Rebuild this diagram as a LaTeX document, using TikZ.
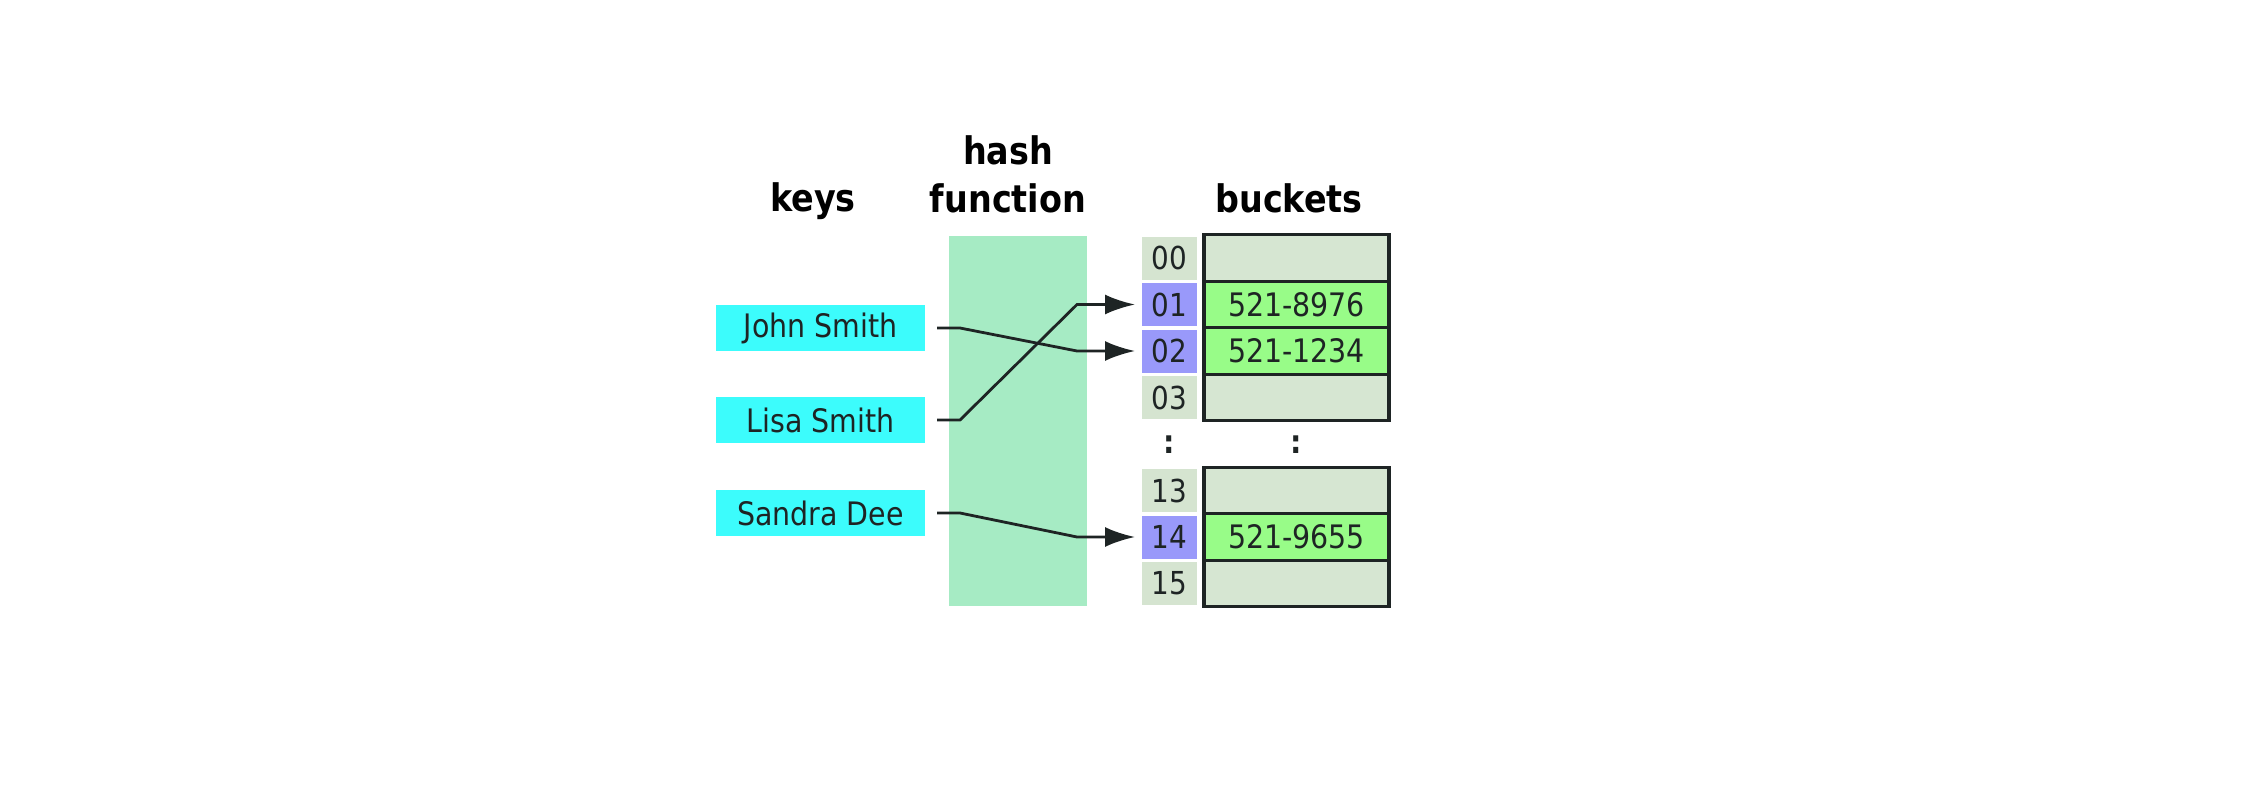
\documentclass[tikz,border=0pt]{standalone}
\usepackage{fontspec}
\setmainfont[FakeStretch=0.88]{DejaVu Sans}
\usepackage{tikz}
\usetikzlibrary{positioning}
\usetikzlibrary{arrows.meta}

\definecolor{keycyan}{RGB}{60,252,252}
\definecolor{hashgreen}{RGB}{166,235,196}
\definecolor{idxgray}{RGB}{213,228,208}
\definecolor{idxblue}{RGB}{153,153,250}
\definecolor{fullgreen}{RGB}{152,252,136}
\definecolor{emptygray}{RGB}{214,230,210}
\definecolor{inkdark}{RGB}{30,36,36}

\begin{document}
\begin{tikzpicture}[
keynode/.style={rectangle, fill=keycyan, minimum width=2.09cm, minimum height=0.46cm, inner sep=0pt, outer sep=0pt, text=inkdark, font=\fontsize{9.2}{11}\selectfont},
idxnode/.style={rectangle, fill=idxgray, minimum width=0.55cm, minimum height=0.43cm, inner sep=0pt, outer sep=0pt, text=inkdark, font=\fontsize{9}{11}\selectfont},
usednode/.style={idxnode, fill=idxblue},
bucketnode/.style={rectangle, draw=inkdark, line width=0.032cm, fill=emptygray, minimum width=1.85cm, minimum height=0.465cm, inner sep=0pt, outer sep=0pt, text=inkdark, font=\fontsize{9.2}{11}\selectfont},
fullnode/.style={bucketnode, fill=fullgreen},
headnode/.style={font=\bfseries\fontsize{10.8}{13.4}\selectfont, align=center, anchor=base},
dotsnode/.style={text=inkdark, font=\bfseries\fontsize{9.2}{11}\selectfont},
link/.style={draw=inkdark, line width=0.028cm, shorten <=0.12cm, shorten >=0.07cm, -{Latex[length=0.3cm, width=0.2cm]}},
]
\useasboundingbox (0,0) rectangle (22.42,-8.02);

% Hash function column
\node[rectangle, fill=hashgreen, minimum width=1.38cm, minimum height=3.70cm, inner sep=0pt] (hash) at (10.18,-4.21) {};

% Headings
\node[headnode] (keyslabel)    at (8.13,-2.11)  {keys};
\node[headnode] (hashlabel)    at (10.08,-2.12) {hash\\function};
\node[headnode] (bucketslabel) at (12.89,-2.12) {buckets};

% Key nodes
\node[keynode] (john)                                  at (8.205,-3.28) {John Smith};
\node[keynode] (lisa)   [below=0.46cm of john]                          {Lisa Smith};
\node[keynode] (sandra) [below=0.47cm of lisa]                          {Sandra Dee};

% Index nodes
\node[idxnode]  (i00)                        at (11.695,-2.58) {00};
\node[usednode] (i01) [below=0.035cm of i00]                   {01};
\node[usednode] (i02) [below=0.035cm of i01]                   {02};
\node[idxnode]  (i03) [below=0.035cm of i02]                   {03};
\node[idxnode]  (i13)                        at (11.695,-4.905) {13};
\node[usednode] (i14) [below=0.035cm of i13]                   {14};
\node[idxnode]  (i15) [below=0.035cm of i14]                   {15};

% Bucket nodes
\node[bucketnode] (b00) [right=0.07cm of i00] {};
\node[fullnode]   (b01) [right=0.07cm of i01] {521-8976};
\node[fullnode]   (b02) [right=0.07cm of i02] {521-1234};
\node[bucketnode] (b03) [right=0.07cm of i03] {};
\node[bucketnode] (b13) [right=0.07cm of i13] {};
\node[fullnode]   (b14) [right=0.07cm of i14] {521-9655};
\node[bucketnode] (b15) [right=0.07cm of i15] {};

% Gap marks
\node[dotsnode] (idxdots)    at (11.695,-4.45) {:};
\node[dotsnode] (bucketdots) at (12.965,-4.45) {:};

\draw[link] (john.east)   -- ++(0.35,0) -- ([xshift=-0.65cm]i02.west) -- (i02.west);
\draw[link] (lisa.east)   -- ++(0.35,0) -- ([xshift=-0.65cm]i01.west) -- (i01.west);
\draw[link] (sandra.east) -- ++(0.35,0) -- ([xshift=-0.65cm]i14.west) -- (i14.west);
\end{tikzpicture}
\end{document}
